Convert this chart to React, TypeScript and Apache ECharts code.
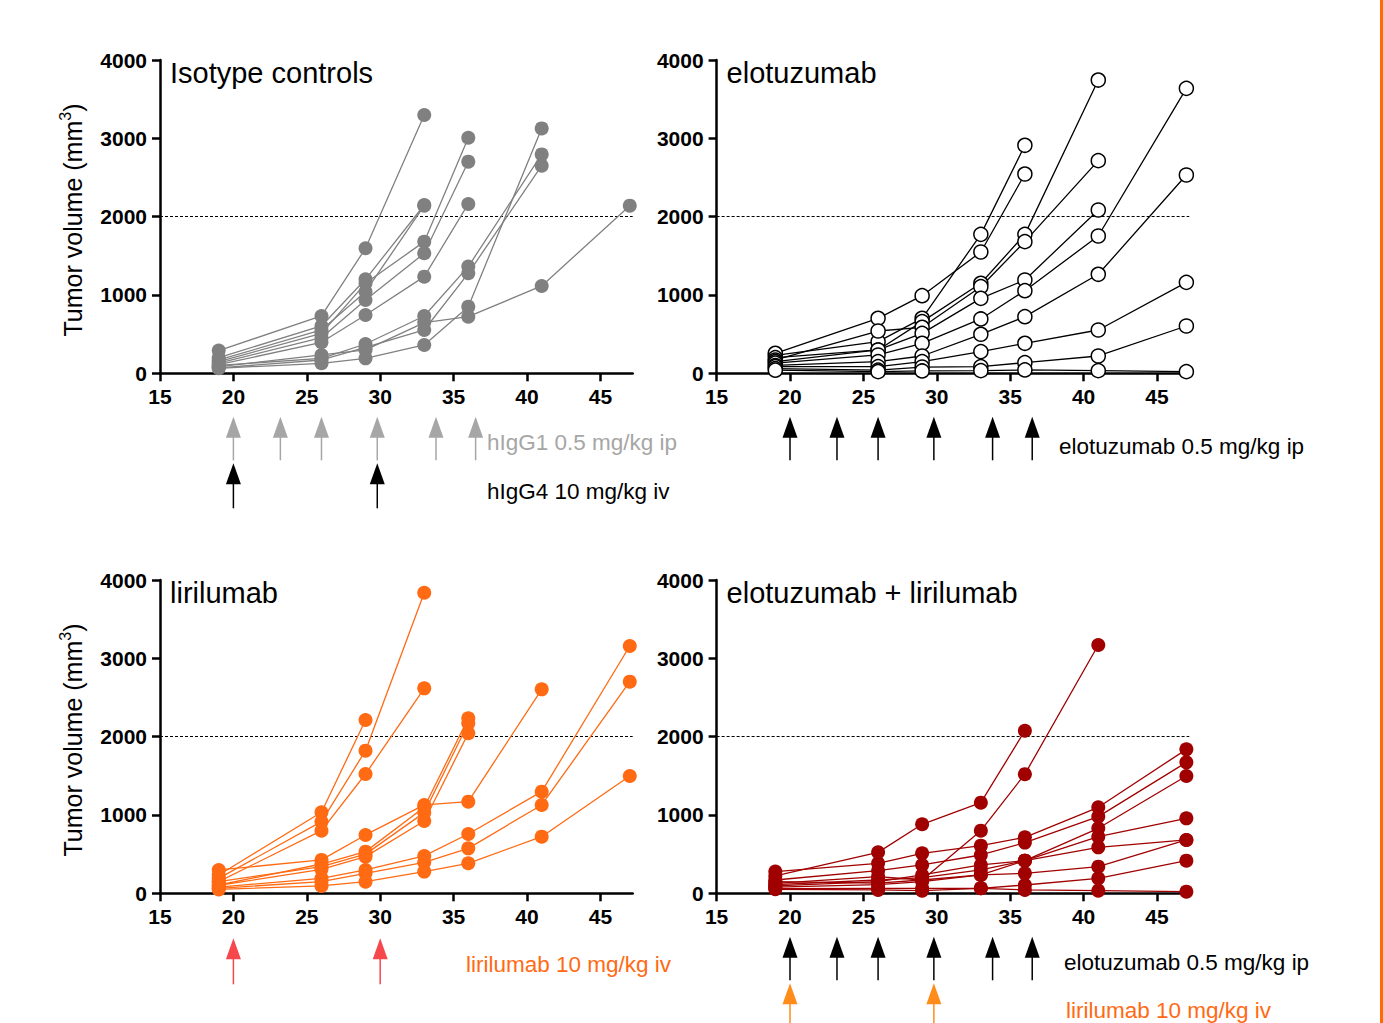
import React, { useEffect, useRef } from 'react';
import * as echarts from 'echarts';

// ---------- data ----------
const measurementDays = [19, 26, 29, 33, 36, 41, 47];
const xTickValues = [15, 20, 25, 30, 35, 40, 45];
const thresholdVolume = 2000;

// tumour volumes (mm3) per mouse, aligned with measurementDays
const isotypeMice: number[][] = [
  [290, 732, 1596, 3298],
  [200, 604, 1200, 2149],
  [170, 553, 1042, 2140],
  [150, 510, 1149, 1681, 3008],
  [130, 455, 936, 1532, 2702],
  [110, 396, 745, 1234, 2162],
  [64, 128, 191, 362, 851, 3127],
  [85, 234, 298, 647, 723, 1115, 2140],
  [100, 191, 374, 732, 1362, 2795],
  [70, 170, 330, 553, 1277, 2651],
];

const elotuzumabMice: number[][] = [
  [230, 404, 702, 1774, 2911],
  [255, 702, 991, 1549, 2544],
  [200, 298, 660, 1149, 1774, 3744],
  [170, 540, 587, 1106, 1681, 2715],
  [150, 298, 510, 957, 1191, 2085],
  [130, 234, 383, 694, 1055, 1753, 3638],
  [100, 149, 221, 498, 723, 1264, 2532],
  [85, 85, 149, 277, 383, 553, 1161],
  [60, 40, 80, 85, 136, 221, 604],
  [40, 21, 30, 34, 43, 34, 21],
];

const lirilumabMice: number[][] = [
  [234, 1034, 2213],
  [191, 915, 1821, 3838],
  [149, 800, 1523, 2617],
  [298, 426, 745, 1128, 1170, 2604],
  [106, 374, 532, 1098, 2234],
  [150, 340, 500, 1030, 2170],
  [100, 306, 468, 923, 2043],
  [80, 191, 298, 477, 757, 1298, 3157],
  [64, 149, 255, 396, 574, 1128, 2702],
  [50, 94, 149, 277, 383, 723, 1498],
];

const comboMice: number[][] = [
  [221, 523, 881, 1157, 2076],
  [128, 213, 170, 800, 1521, 3170],
  [277, 383, 511, 608, 715, 1098, 1838],
  [170, 289, 362, 489, 647, 979, 1672],
  [94, 149, 234, 362, 417, 830, 1498],
  [110, 170, 200, 298, 417, 723, 957],
  [150, 130, 170, 234, 417, 587, 681],
  [80, 110, 150, 234, 255, 340, 681],
  [60, 64, 64, 64, 106, 191, 417],
  [51, 43, 34, 64, 43, 34, 21],
];

// dosing days (arrows)
const ipDoseDays = [20, 23.2, 26, 29.8, 33.8, 36.5];
const ivDoseDays = [20, 29.8];
const lirilumabSoloDoseDays = [20, 30];

const panelTitles = ['Isotype controls', 'elotuzumab', 'lirilumab', 'elotuzumab + lirilumab'];
const yAxisTitle = 'Tumor volume (mm{sup|3})';

// ---------- styling / layout ----------
const FONT = '"Liberation Sans", Arial, Helvetica, sans-serif';
const GRID_W = 472.7;
const GRID_H = 313.3;
const gridPos = [
  { left: 160, top: 60 },
  { left: 716.6, top: 60 },
  { left: 160, top: 580 },
  { left: 716.6, top: 580 },
];

type ArrowRow = { days: number[]; color: string; top: number; end: number };
type Panel = {
  mice: number[][];
  color: string;
  hollow?: boolean;
  arrows: ArrowRow[];
};

const panels: Panel[] = [
  {
    mice: isotypeMice,
    color: '#808080',
    arrows: [
      { days: ipDoseDays, color: '#a6a6a6', top: 43.5, end: 87 },
      { days: ivDoseDays, color: '#000000', top: 90, end: 135 },
    ],
  },
  {
    mice: elotuzumabMice,
    color: '#000000',
    hollow: true,
    arrows: [{ days: ipDoseDays, color: '#000000', top: 43.5, end: 87 }],
  },
  {
    mice: lirilumabMice,
    color: '#ff6a13',
    arrows: [{ days: lirilumabSoloDoseDays, color: '#f5474c', top: 45, end: 91 }],
  },
  {
    mice: comboMice,
    color: '#a00000',
    arrows: [
      { days: ipDoseDays, color: '#000000', top: 43.5, end: 87 },
      { days: ivDoseDays, color: '#ff8c1a', top: 90, end: 145 },
    ],
  },
];

const annotations = [
  { text: 'hIgG1 0.5 mg/kg ip', x: 487, y: 442, color: '#a6a6a6' },
  { text: 'hIgG4 10 mg/kg iv', x: 487, y: 491, color: '#000000' },
  { text: 'elotuzumab 0.5 mg/kg ip', x: 1059, y: 446, color: '#000000' },
  { text: 'lirilumab 10 mg/kg iv', x: 466, y: 964, color: '#ff6a13' },
  { text: 'elotuzumab 0.5 mg/kg ip', x: 1064, y: 962, color: '#000000' },
  { text: 'lirilumab 10 mg/kg iv', x: 1066, y: 1010, color: '#ff6a13' },
];

function buildOption() {
  const grid = gridPos.map((g) => ({ left: g.left, top: g.top, width: GRID_W, height: GRID_H }));
  const xAxis = gridPos.map((_, i) => ({
    type: 'value',
    gridIndex: i,
    min: 15,
    max: 47.2,
    axisLine: { show: true, onZero: false, lineStyle: { color: '#000', width: 2.5 } },
    axisTick: { show: true, length: 8, customValues: xTickValues, lineStyle: { color: '#000', width: 2.5 } },
    axisLabel: {
      customValues: xTickValues,
      fontSize: 21,
      fontWeight: 'bold',
      color: '#000',
      fontFamily: FONT,
      margin: 13,
    },
    splitLine: { show: false },
  }));
  const yAxis = gridPos.map((_, i) => ({
    type: 'value',
    gridIndex: i,
    min: 0,
    max: 4000,
    interval: 1000,
    axisLine: { show: true, onZero: false, lineStyle: { color: '#000', width: 2.5 } },
    axisTick: { show: true, length: 8, lineStyle: { color: '#000', width: 2.5 } },
    axisLabel: {
      fontSize: 21,
      fontWeight: 'bold',
      color: '#000',
      fontFamily: FONT,
      margin: 13,
      formatter: (v: number) => String(v),
    },
    splitLine: { show: false },
  }));

  const series: any[] = [];
  panels.forEach((p, i) => {
    p.mice.forEach((m, k) => {
      series.push({
        type: 'line',
        name: `${panelTitles[i]} ${k + 1}`,
        xAxisIndex: i,
        yAxisIndex: i,
        data: m.map((v, j) => [measurementDays[j], v]),
        symbol: 'none',
        showSymbol: false,
        lineStyle: { color: p.color, width: 1.3 },
        silent: true,
        z: 2,
      });
    });
    const pts: number[][] = [];
    p.mice.forEach((m) => m.forEach((v, j) => pts.push([measurementDays[j], v])));
    series.push({
      type: 'scatter',
      xAxisIndex: i,
      yAxisIndex: i,
      data: pts,
      symbol: 'circle',
      symbolSize: 14,
      itemStyle: p.hollow
        ? { color: '#ffffff', borderColor: '#000000', borderWidth: 1.5, opacity: 1 }
        : { color: p.color, opacity: 1 },
      silent: true,
      z: 3,
      markLine: {
        silent: true,
        symbol: ['none', 'none'],
        label: { show: false },
        lineStyle: { type: [3, 2], color: '#000', width: 1 },
        data: [{ yAxis: thresholdVolume }],
        z: 1,
      },
    });
    p.arrows.forEach((row) => {
      series.push({
        type: 'custom',
        xAxisIndex: i,
        yAxisIndex: i,
        clip: false,
        silent: true,
        data: row.days.map((d) => [d, 0]),
        renderItem: (_params: any, api: any) => {
          const pt = api.coord([api.value(0), 0]);
          const x = pt[0];
          const y0 = pt[1];
          const top = y0 + row.top;
          const base = top + 21;
          const end = y0 + row.end;
          return {
            type: 'group',
            children: [
              {
                type: 'line',
                shape: { x1: x, y1: base - 1, x2: x, y2: end },
                style: { stroke: row.color, lineWidth: 1.5 },
              },
              {
                type: 'polygon',
                shape: { points: [[x, top], [x - 7.5, base], [x + 7.5, base]] },
                style: { fill: row.color },
              },
            ],
          };
        },
      });
    });
  });

  const title = panelTitles.map((t, i) => ({
    text: t,
    left: gridPos[i].left + 10,
    top: gridPos[i].top - 2,
    padding: 0,
    textStyle: { fontSize: 29, fontWeight: 'normal', color: '#000', fontFamily: FONT },
  }));

  const graphic: any[] = [
    ...annotations.map((a) => ({
      type: 'text',
      x: a.x,
      y: a.y,
      silent: true,
      style: {
        text: a.text,
        fill: a.color,
        fontSize: 22.5,
        fontFamily: FONT,
        align: 'left',
        verticalAlign: 'middle',
      },
    })),
    ...[220, 740].map((cy) => ({
      type: 'text',
      x: 73,
      y: cy,
      rotation: Math.PI / 2,
      silent: true,
      style: {
        text: yAxisTitle,
        fill: '#000',
        fontSize: 25,
        fontFamily: FONT,
        align: 'center',
        verticalAlign: 'middle',
        lineHeight: 32,
        rich: {
          sup: { fontSize: 16, fontFamily: FONT, fill: '#000', verticalAlign: 'top', lineHeight: 16 },
        },
      },
    })),
    {
      type: 'rect',
      silent: true,
      shape: { x: 1380, y: 0, width: 3, height: 1023 },
      style: { fill: '#ff6a00' },
    },
  ];

  return {
    animation: false,
    backgroundColor: '#ffffff',
    title,
    grid,
    xAxis,
    yAxis,
    series,
    graphic,
  };
}

export default function App() {
  const ref = useRef<HTMLDivElement>(null);
  useEffect(() => {
    if (!ref.current) return;
    const chart = echarts.init(ref.current, undefined, { renderer: 'svg' });
    chart.setOption(buildOption() as any);
    return () => chart.dispose();
  }, []);
  return (
    <div
      ref={ref}
      style={{ position: 'fixed', left: 0, top: 0, width: 1383, height: 1023, background: '#fff' }}
    />
  );
}
